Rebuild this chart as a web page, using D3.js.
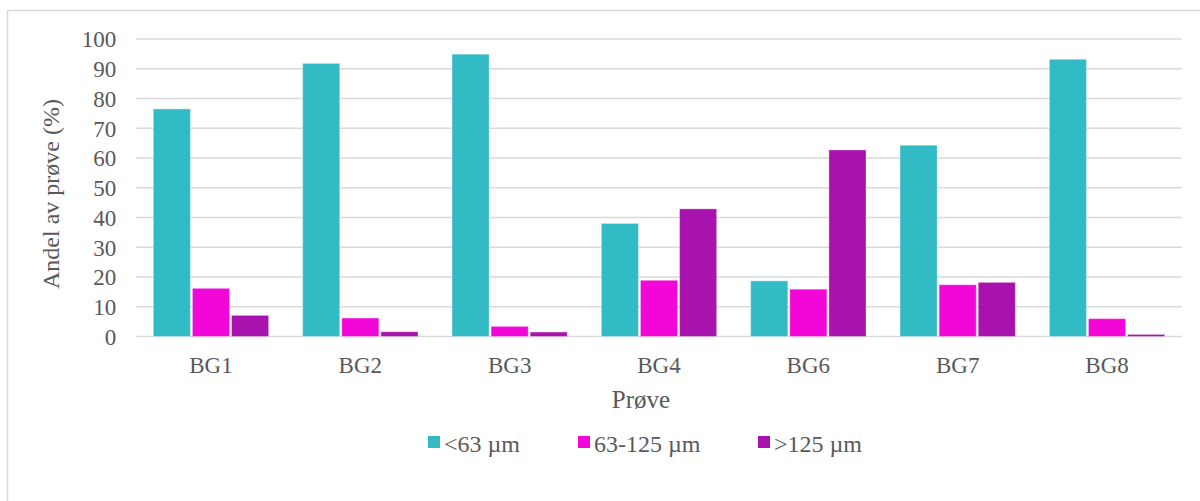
<!DOCTYPE html>
<html>
<head>
<meta charset="utf-8">
<script src="https://cdn.jsdelivr.net/npm/d3@7"></script>
<style>
  body { margin: 0; background: #fff; }
  text { font-family: "Liberation Serif", "Times New Roman", serif; fill: #595959; }
</style>
</head>
<body>
<svg id="chart" width="1200" height="501"></svg>
<script>
var categories = ["BG1", "BG2", "BG3", "BG4", "BG6", "BG7", "BG8"];
var seriesNames = ["<63 µm", "63-125 µm", ">125 µm"];
var fine = [76.5, 91.8, 94.9, 38.0, 18.7, 64.3, 93.2];
var medium = [16.2, 6.2, 3.4, 18.9, 15.9, 17.4, 6.0];
var coarse = [7.1, 1.6, 1.5, 42.9, 62.7, 18.2, 0.7];
var yTicks = [0, 10, 20, 30, 40, 50, 60, 70, 80, 90, 100];
var colors = ["#33bbc5", "#f206d8", "#a813ae"];

var svg = d3.select("#chart");

// outer chart border (only left + top visible in the picture)
svg.append("rect")
  .attr("x", 7.5)
  .attr("y", 10.5)
  .attr("width", 1400)
  .attr("height", 700)
  .attr("fill", "none")
  .attr("stroke", "#d9d9d9")
  .attr("stroke-width", 1.5);

var plotLeft = 136.3, plotRight = 1181.7, plotTop = 39, plotBottom = 336.5;

var y = d3.scaleLinear().domain([0, 100]).range([plotBottom, plotTop]);
var x0 = d3.scaleBand().domain(categories).range([plotLeft, plotRight]).padding(0);
var x1 = d3.scaleBand().domain(seriesNames).range([16, x0.bandwidth() - 16]).padding(0);

// gridlines
svg.append("g").selectAll("line").data(yTicks).enter().append("line")
  .attr("x1", plotLeft)
  .attr("x2", plotRight)
  .attr("y1", function(d){ return y(d); })
  .attr("y2", function(d){ return y(d); })
  .attr("stroke", "#d9d9d9")
  .attr("stroke-width", 1.5);

// y tick labels
var yAxis = svg.append("g")
  .attr("transform", "translate(" + (plotLeft - 20) + ",0)")
  .call(d3.axisLeft(y).tickValues(yTicks).tickSize(0).tickPadding(0));
yAxis.select(".domain").remove();
yAxis.selectAll("text")
  .attr("font-size", "23px")
  .attr("font-family", null)
  .attr("dy", "0.34em");

// x category labels
var xAxis = svg.append("g")
  .attr("transform", "translate(0," + plotBottom + ")")
  .call(d3.axisBottom(x0).tickSize(0).tickPadding(0));
xAxis.select(".domain").remove();
xAxis.selectAll("text")
  .attr("font-size", "23px")
  .attr("font-family", null)
  .attr("dy", null)
  .attr("y", 36);

var table = categories.map(function(c, i){
  return {cat: c, vals: [fine[i], medium[i], coarse[i]]};
});

var groups = svg.append("g").selectAll("g").data(table).enter().append("g")
  .attr("transform", function(d){ return "translate(" + x0(d.cat) + ",0)"; });

groups.selectAll("rect").data(function(d){
  return d.vals.map(function(v, j){ return {name: seriesNames[j], v: v, j: j}; });
}).enter().append("rect")
  .attr("x", function(d){ return x1(d.name) + 1; })
  .attr("y", function(d){ return y(d.v); })
  .attr("width", x1.bandwidth() - 2)
  .attr("height", function(d){ return plotBottom - y(d.v); })
  .attr("fill", function(d){ return colors[d.j]; })
  .attr("stroke", "#ffffff")
  .attr("stroke-opacity", 0.35)
  .attr("stroke-width", 1);

// axis titles
svg.append("text")
  .attr("transform", "translate(51,194) rotate(-90)")
  .attr("text-anchor", "middle")
  .attr("dominant-baseline", "central")
  .attr("font-size", "24px")
  .text("Andel av prøve (%)");

svg.append("text")
  .attr("x", 641)
  .attr("y", 408)
  .attr("text-anchor", "middle")
  .attr("font-size", "25px")
  .text("Prøve");

// legend
var legendX = [428, 578, 758];
var legend = svg.append("g").selectAll("g").data(seriesNames).enter().append("g")
  .attr("transform", function(d, i){ return "translate(" + legendX[i] + ",436)"; });
legend.append("rect")
  .attr("width", 12)
  .attr("height", 12)
  .attr("fill", function(d, i){ return colors[i]; });
legend.append("text")
  .attr("x", 16)
  .attr("y", 15.5)
  .attr("font-size", "24px")
  .text(function(d){ return d; });
</script>
</body>
</html>
